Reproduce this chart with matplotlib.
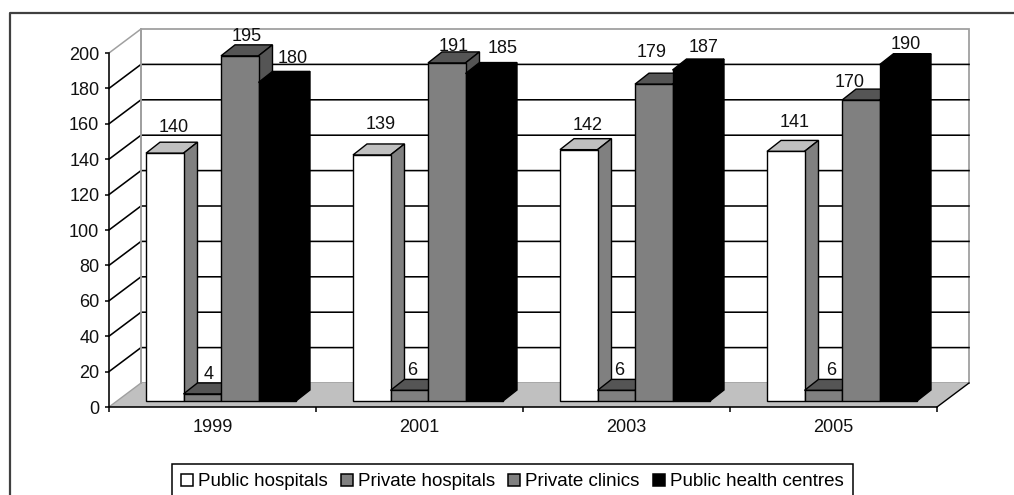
import matplotlib
matplotlib.use("Agg")
import matplotlib.pyplot as plt
from matplotlib.lines import Line2D
from matplotlib.patches import Patch, Polygon

plt.rcParams['font.family'] = ['Liberation Sans', 'DejaVu Sans']

years = ['1999', '2001', '2003', '2005']
public_hospitals = [140, 139, 142, 141]
private_hospitals = [4, 6, 6, 6]
private_clinics = [195, 191, 179, 170]
public_health_centres = [180, 185, 187, 190]
series_names = ['Public hospitals', 'Private hospitals', 'Private clinics', 'Public health centres']
y_ticks = list(range(0, 201, 20))

# figure size and scale, one category is 207 px and one unit is 1.77 px
W, H = 1014, 495
PX = 1 / 207
PY = 1 / 1.77

# depth of the fake 3d box
WALL_DX, WALL_DY = 32 * PX, 24 * PY
BAR_DX, BAR_DY = 14 * PX, 11 * PY
BASE_DX, BASE_DY = 7 * PX, 6 * PY
BAR_W = 37.5 * PX
GROUP_START = 30 * PX

# front, top, side colours per series
styles = [
    ('white', '#c0c0c0', '#808080', 'black'),
    ('#808080', '#555555', '#555555', 'black'),
    ('#808080', '#555555', '#555555', 'black'),
    ('black', 'black', 'black', 'black'),
]

# nudge of the value labels in px, one row per series
label_nudge_x = [
    [9, 9, 9, 9],
    [6, 3, 3, 8],
    [7, 7, -2, -11],
    [15, 18, 12, 7],
]
label_nudge_y = [
    [2, 7, 1, 5],
    [-4, -4, -4, -4],
    [-4, -7, 8, -6],
    [0, 2, -1, -3],
]


def bar3d(ax, x, val, front, top, side, edge):
    y = BASE_DY
    lw = 1.0
    ax.add_patch(Polygon([(x, y + val), (x + BAR_DX, y + val + BAR_DY), (x + BAR_W + BAR_DX, y + val + BAR_DY), (x + BAR_W, y + val)],
                         facecolor=top, edgecolor=edge, lw=lw, zorder=4))
    ax.add_patch(Polygon([(x + BAR_W, y), (x + BAR_W, y + val), (x + BAR_W + BAR_DX, y + val + BAR_DY), (x + BAR_W + BAR_DX, y + BAR_DY)],
                         facecolor=side, edgecolor=edge, lw=lw, zorder=4))
    ax.add_patch(Polygon([(x, y), (x, y + val), (x + BAR_W, y + val), (x + BAR_W, y)],
                         facecolor=front, edgecolor=edge, lw=lw, zorder=4))


fig = plt.figure(figsize=(W / 100, H / 100), dpi=100)
ax = fig.add_axes([0, 0, 1, 1])
ax.set_xlim(-109 * PX, (W - 109) * PX)
ax.set_ylim(-(H - 407) * PY, 407 * PY)
ax.patch.set_visible(False)

n = len(years)
top_val = y_ticks[-1]

# back wall, floor
ax.add_patch(Polygon([(WALL_DX, WALL_DY), (WALL_DX, top_val + WALL_DY), (n + WALL_DX, top_val + WALL_DY), (n + WALL_DX, WALL_DY)],
                     facecolor='white', edgecolor='#a0a0a0', lw=1.3, zorder=1))
ax.add_patch(Polygon([(0, 0), (WALL_DX, WALL_DY), (n + WALL_DX, WALL_DY), (n, 0)],
                     facecolor='#c0c0c0', edgecolor='none', zorder=1.5))

# gridlines on the walls
for t in y_ticks[1:-1]:
    ax.plot([0, WALL_DX, n + WALL_DX], [t, t + WALL_DY, t + WALL_DY], color='black', lw=1.15, zorder=2)
ax.plot([0, WALL_DX], [top_val, top_val + WALL_DY], color='#a0a0a0', lw=1.1, zorder=2)
ax.plot([WALL_DX, WALL_DX], [WALL_DY, top_val + WALL_DY], color='#a0a0a0', lw=1.3, zorder=2)
ax.plot([0, WALL_DX], [0, WALL_DY], color='#a0a0a0', lw=1.0, zorder=2)
ax.plot([n, n + WALL_DX], [0, WALL_DY], color='black', lw=1.0, zorder=2)

# bars, left to right so the later ones hide the earlier sides
all_series = [public_hospitals, private_hospitals, private_clinics, public_health_centres]
for g in range(n):
    for s, values in enumerate(all_series):
        x = g + GROUP_START + BASE_DX + s * BAR_W
        bar3d(ax, x, values[g], *styles[s])
        ax.text(x + BAR_W / 2 + label_nudge_x[s][g] * PX, BASE_DY + values[g] + (23.5 + label_nudge_y[s][g]) * PY, str(values[g]),
                ha='center', va='center', fontsize=13, color='#111111', zorder=6)

# axes
for side in ['top', 'right']:
    ax.spines[side].set_visible(False)
ax.spines['left'].set_position(('data', 0))
ax.spines['bottom'].set_position(('data', 0))
ax.spines['left'].set_bounds(0, top_val)
ax.spines['bottom'].set_bounds(0, n)
ax.spines['left'].set_linewidth(1.15)
ax.spines['bottom'].set_linewidth(1.15)
ax.set_yticks(y_ticks)
ax.set_xticks(range(n + 1))
ax.set_xticklabels([])
ax.set_xticks([i + 0.5 for i in range(n)], minor=True)
ax.set_xticklabels(years, minor=True, fontsize=13, color='#111111')
ax.tick_params(axis='x', which='major', length=3.5, width=1.1, direction='out')
ax.tick_params(axis='x', which='minor', length=0, pad=9)
ax.tick_params(axis='y', length=3, width=1.1, pad=4, labelsize=13, labelcolor='#111111')

# outer frame is open on the right and cut at the bottom
fig.add_artist(Line2D([10 / W, 10 / W, 1], [0, 1 - 13 / H, 1 - 13 / H], color='#404040', lw=1.6))

handles = [Patch(facecolor=st[0], edgecolor='black', lw=1.1) for st in styles]
fs = 18.75
leg = ax.legend(handles, series_names, ncols=4, loc='upper left',
                bbox_to_anchor=(172 / W, 1 - 464 / H), bbox_transform=fig.transFigure,
                fontsize=13.5, fancybox=False, framealpha=1, edgecolor='black',
                borderpad=0.5, borderaxespad=0, handlelength=12 / fs, handleheight=12 / fs,
                handletextpad=5 / fs, columnspacing=13 / fs, labelspacing=0)
leg.get_frame().set_linewidth(1.1)
leg.set_zorder(7)

fig.savefig('out.png', dpi=100)
